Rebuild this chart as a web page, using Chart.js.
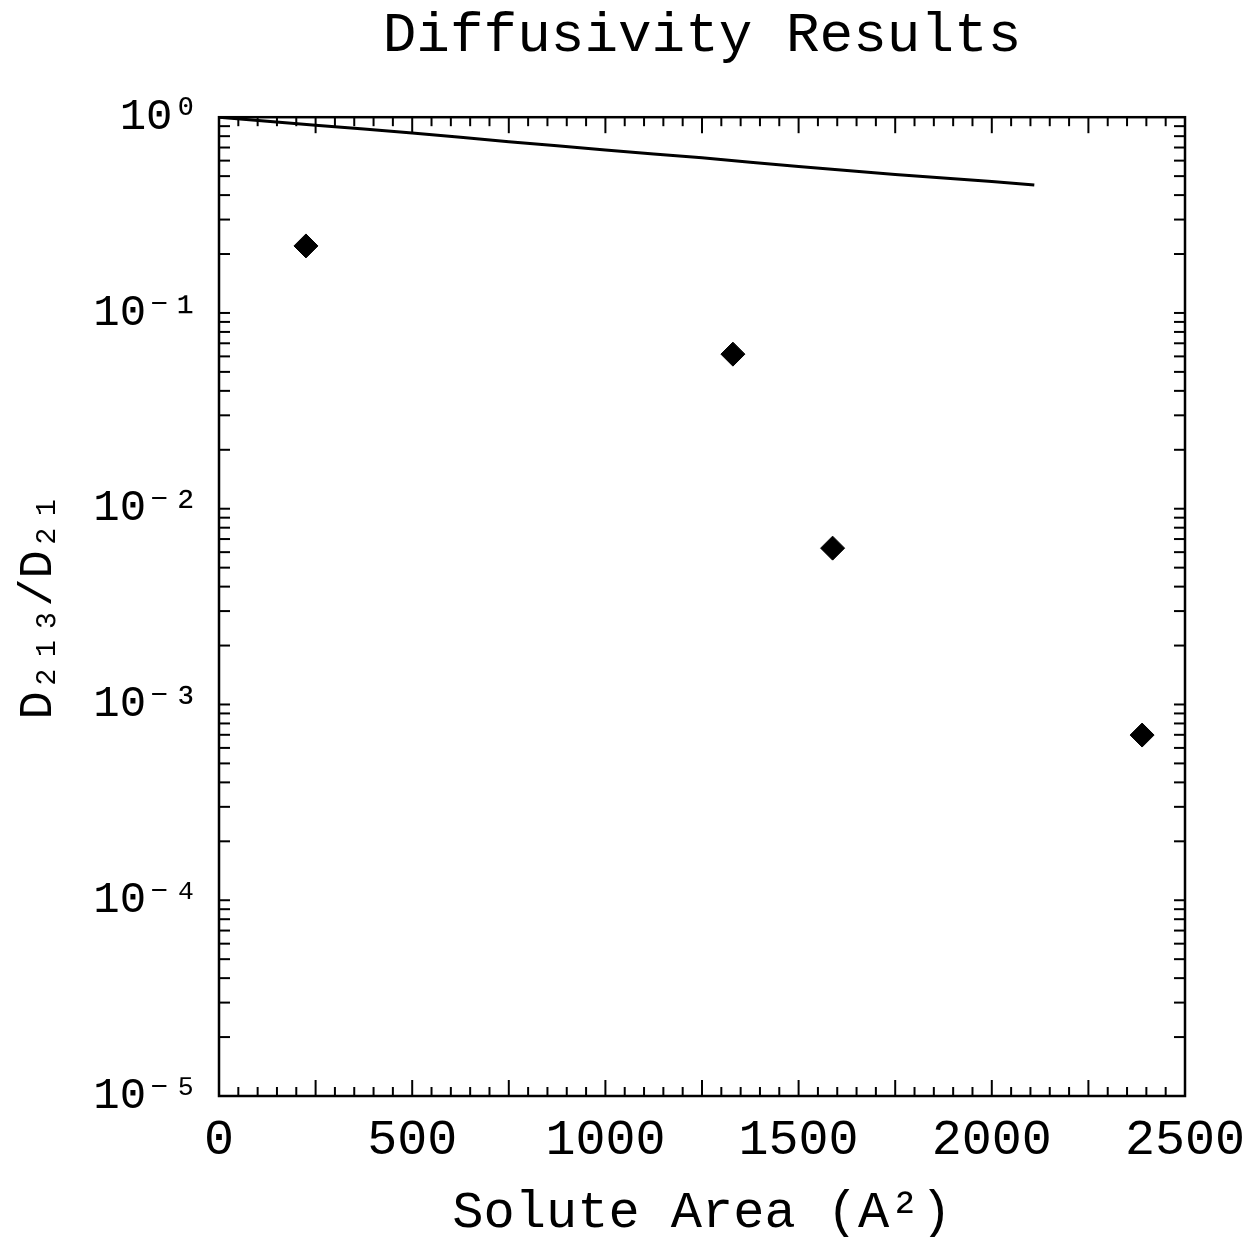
<!DOCTYPE html>
<html>
<head>
<meta charset="utf-8">
<script src="https://cdn.jsdelivr.net/npm/chart.js@4"></script>
<style>
  html, body { margin: 0; padding: 0; background: #fff; }
  canvas { display: block; }
</style>
</head>
<body>
<canvas id="c" width="1260" height="1237"></canvas>
<script>
// ---- data ----
const pointX = [225, 1330, 1588, 2389];
const pointY = [0.220, 0.0616, 0.00629, 0.000698];

const lineX = [0, 250, 500, 750, 1000, 1250, 1500, 1750, 2000, 2110];
const lineY = [1.0, 0.91, 0.83, 0.75, 0.68, 0.62, 0.56, 0.51, 0.47, 0.45];

const xTickValues = [0, 500, 1000, 1500, 2000, 2500];
const xTickLabels = ['0', '500', '1000', '1500', '2000', '2500'];
const yTickValues = [1, 0.1, 0.01, 0.001, 0.0001, 0.00001];
const yTickLabels = ['10\u2070', '10\u207B\u00B9', '10\u207B\u00B2', '10\u207B\u00B3', '10\u207B\u2074', '10\u207B\u2075'];

const titleText = 'Diffusivity Results';
const xTitle = 'Solute Area (A\u00B2)';
const yTitle = 'D\u2082\u2081\u2083/D\u2082\u2081';

// ---- styling ----
const FONT = "'Liberation Mono', 'DejaVu Sans Mono', monospace";
const X_MINOR = 50, X_MID = 250;

const inwardTicks = {
  id: 'inwardTicks',
  afterDraw(chart) {
    const { ctx, chartArea: a, scales: { x, y } } = chart;
    ctx.save();
    ctx.strokeStyle = '#000';
    ctx.lineCap = 'butt';
    ctx.lineWidth = 2.5;
    ctx.strokeRect(a.left, a.top, a.right - a.left, a.bottom - a.top);
    ctx.lineWidth = 2;
    const seg = (x1, y1, x2, y2) => { ctx.beginPath(); ctx.moveTo(x1, y1); ctx.lineTo(x2, y2); ctx.stroke(); };
    for (let v = x.min; v <= x.max + 1e-9; v += X_MINOR) {
      const px = x.getPixelForValue(v);
      const len = (Math.round(v) % X_MID === 0) ? 16 : 9;
      seg(px, a.bottom, px, a.bottom - len);
      seg(px, a.top, px, a.top + len);
    }
    const eMin = Math.round(Math.log10(y.min)), eMax = Math.round(Math.log10(y.max));
    for (let e = eMin; e < eMax; e++) {
      for (let k = 1; k <= 9; k++) {
        const py = y.getPixelForValue(k * Math.pow(10, e));
        seg(a.left, py, a.left + 11, py);
        seg(a.right, py, a.right - 11, py);
      }
    }
    ctx.restore();
  }
};

new Chart(document.getElementById('c'), {
  type: 'scatter',
  data: {
    datasets: [
      {
        label: 'model',
        data: lineX.map((v, i) => ({ x: v, y: lineY[i] })),
        showLine: true,
        borderColor: '#000',
        borderWidth: 3,
        pointRadius: 0,
        tension: 0.3
      },
      {
        label: 'measured',
        data: pointX.map((v, i) => ({ x: v, y: pointY[i] })),
        showLine: false,
        pointStyle: 'rectRot',
        pointRadius: 12,
        backgroundColor: '#000',
        borderColor: '#000',
        borderWidth: 1
      }
    ]
  },
  options: {
    responsive: false,
    animation: false,
    devicePixelRatio: 1,
    layout: { padding: { left: 0, right: 75, top: 0, bottom: 0 } },
    plugins: {
      legend: { display: false },
      tooltip: { enabled: false },
      title: {
        display: true,
        text: titleText,
        fullSize: false,
        color: '#000',
        font: { family: FONT, size: 56, weight: 'normal', lineHeight: 1.2 },
        padding: { top: 3, bottom: 47 }
      }
    },
    scales: {
      x: {
        type: 'linear',
        min: xTickValues[0],
        max: xTickValues[xTickValues.length - 1],
        afterBuildTicks: (s) => { s.ticks = xTickValues.map(v => ({ value: v })); },
        grid: { display: false, drawTicks: false },
        border: { display: false },
        ticks: {
          color: '#000',
          padding: 20,
          maxRotation: 0,
          autoSkip: false,
          font: { family: FONT, size: 50, lineHeight: 1 },
          callback: (v) => { const i = xTickValues.indexOf(v); return i >= 0 ? xTickLabels[i] : ''; }
        },
        title: {
          display: true,
          text: xTitle,
          color: '#000',
          font: { family: FONT, size: 52, lineHeight: 0.9 },
          padding: { top: 0, bottom: 0 }
        },
        afterFit: (s) => { s.height = 141; s.paddingLeft = 0; s.paddingRight = 0; }
      },
      y: {
        type: 'logarithmic',
        min: yTickValues[yTickValues.length - 1],
        max: yTickValues[0],
        grid: { display: false, drawTicks: false },
        border: { display: false },
        ticks: {
          color: '#000',
          padding: 20,
          autoSkip: false,
          font: { family: FONT, size: 44, lineHeight: 1 },
          callback: (v) => {
            const i = yTickValues.findIndex(t => Math.abs(Math.log10(t) - Math.log10(v)) < 1e-6);
            return i >= 0 ? yTickLabels[i] : '';
          }
        },
        title: {
          display: true,
          text: yTitle,
          color: '#000',
          font: { family: FONT, size: 47, lineHeight: 1.2 },
          padding: { top: 10, bottom: 0 }
        },
        afterFit: (s) => { s.width = 219; }
      }
    }
  },
  plugins: [inwardTicks]
});
</script>
</body>
</html>
